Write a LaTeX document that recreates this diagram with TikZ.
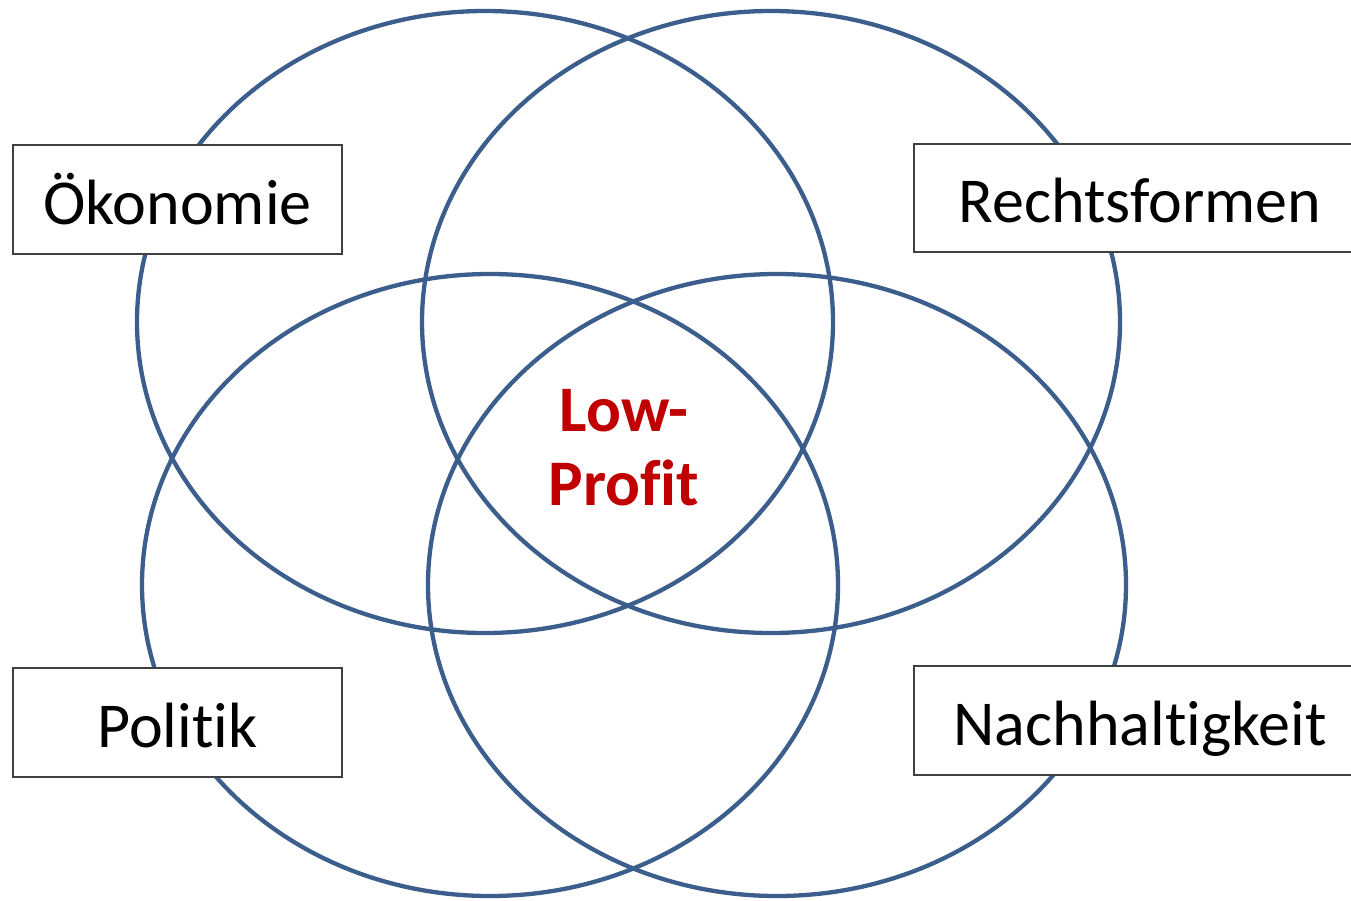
\documentclass[tikz,border=0pt]{standalone}
\usepackage{fontspec}
\setmainfont[Ligatures=NoCommon, RawFeature={-liga;-clig}]{Carlito}
\definecolor{ringblue}{HTML}{3C5E8C}
\definecolor{lowred}{HTML}{C00000}
\tikzset{
  ring/.style={draw=ringblue, line width=4.3pt},
  labelbox/.style={draw=black!75, fill=white, line width=1.3pt, minimum width=329pt, minimum height=109pt, inner sep=0pt, text height=60pt, text depth=11pt, font=\fontsize{64}{77}\selectfont}
}
\begin{document}
\begin{tikzpicture}[x=1pt, y=-1pt]
				\useasboundingbox (0,0) rectangle (1351,900);
				\clip (0,0) rectangle (1351,900);
				\draw[ring] (485,322) ellipse (348 and 311);
				\draw[ring] (771,322) ellipse (349 and 311);
				\draw[ring] (490,585) ellipse (348 and 311);
				\draw[ring] (777,585) ellipse (349 and 311);
				\node[labelbox] (oekonomie) at (177.5,199.5) {Ökonomie};
				\node[labelbox, minimum width=452pt, minimum height=108pt] (recht) at (1140,198) {Rechtsformen};
				\node[labelbox] (politik) at (177.5,722.5) {Politik};
				\node[labelbox, minimum width=452pt] (nachhalt) at (1140,720.5) {Nachhaltigkeit};
				\node[text=lowred, align=center, font=\bfseries\fontsize{65}{74}\selectfont] (lowprofit) at (624,448) {Low-\\Profit};
			\end{tikzpicture}
\end{document}
